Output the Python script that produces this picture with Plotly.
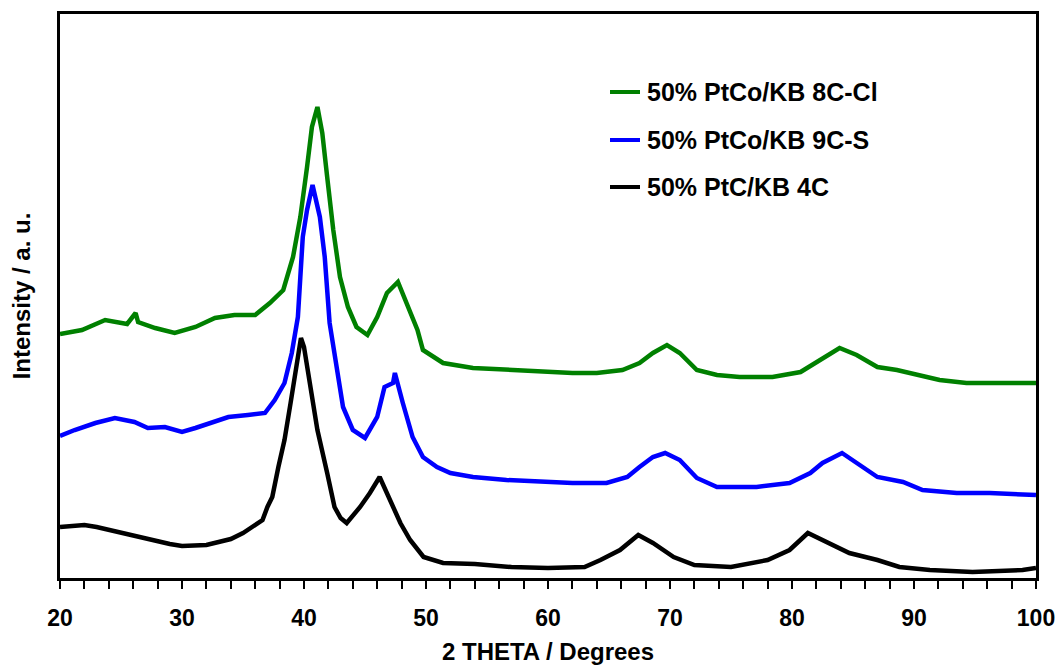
import plotly.graph_objects as go

# ---- data (2-theta in degrees, intensity in arbitrary units) ----
black_name = "50% PtC/KB 4C"
black_x = [20, 21, 22, 23, 24, 25, 26, 27, 28, 29, 30, 31, 32, 33, 34, 35,
           35.8, 36.6, 37.0, 37.4, 37.9, 38.4, 38.9, 39.4, 39.75, 40.0,
           40.5, 41.1, 41.9, 42.5, 43.0, 43.5, 44.6, 45.4, 46.2, 47.0,
           47.9, 48.7, 49.8, 51.4, 54, 57, 60, 63, 64.3, 65.9,
           67.4, 68.6, 70.3, 72, 75, 78, 79.8, 81.3, 83.1, 84.7,
           87.0, 88.8, 91.3, 94.8, 98.9, 100]
black_y = [51, 52, 53, 51, 48, 45, 42, 40, 37, 34, 32, 32, 33, 36, 39, 45,
           51, 58, 71, 81, 111, 138, 175, 213, 240, 231,
           191, 148, 105, 71, 60, 55, 71, 85, 101, 78,
           55, 38, 21, 15, 14, 11, 10, 11, 18, 28,
           43, 35, 21, 13, 11, 18, 28, 45, 35, 25,
           18, 11, 8, 6, 8, 10]

blue_name = "50% PtCo/KB 9C-S"
blue_x = [20, 21.2, 22.9, 24.5, 26.1, 27.2, 28.6, 30.0, 31.1, 32.5,
          33.8, 35.4, 36.8, 37.6, 38.4, 39.0, 39.5, 39.7, 39.9, 40.25,
          40.7, 41.3, 41.7, 42.1, 42.7, 43.2, 44.0, 45.0, 46.0, 46.6,
          47.3, 47.45, 48.1, 48.9, 49.75, 50.9, 52.0, 53.85, 56.6, 59.3,
          62.0, 64.8, 66.5, 67.5, 68.6, 69.6, 70.8, 72.2, 73.85, 77.1,
          79.8, 81.5, 82.5, 84.1, 85.3, 87.0, 89.1, 90.7, 93.5, 96.2,
          100]
blue_y = [142, 148, 155, 160, 156, 150, 151, 146, 150, 156,
          161, 163, 165, 178, 195, 225, 261, 301, 341, 368,
          393, 361, 321, 255, 208, 171, 148, 140, 161, 191,
          195, 205, 175, 141, 121, 111, 105, 101, 98, 96,
          95, 95, 101, 111, 121, 125, 118, 100, 91, 91,
          95, 105, 115, 125, 115, 101, 96, 88, 85, 85,
          83]

green_name = "50% PtCo/KB 8C-Cl"
green_x = [20, 21.8, 23.7, 25.5, 26.2, 26.4, 27.8, 29.4, 31.1, 32.7,
           34.3, 36.0, 37.2, 38.3, 39.1, 39.7, 40.25, 40.65, 41.1, 41.5,
           41.9, 42.4, 42.95, 43.6, 44.3, 45.2, 46.0, 46.8, 47.7, 48.4,
           49.3, 49.75, 51.4, 53.85, 56.6, 59.3, 62.0, 64.0, 66.1, 67.5,
           68.6, 69.75, 70.8, 72.2, 73.85, 75.7, 78.4, 80.7, 82.05, 83.1,
           83.9, 85.3, 87.0, 88.6, 90.2, 92.1, 94.3, 97.6, 100]
green_y = [244, 248, 258, 254, 265, 256, 250, 245, 251, 260,
           263, 263, 275, 288, 321, 361, 411, 451, 471, 445,
           401, 348, 301, 271, 251, 243, 261, 285, 296, 275,
           248, 228, 215, 210, 208, 206, 205, 205, 208, 215,
           225, 233, 225, 208, 203, 201, 201, 206, 216, 223,
           230, 223, 211, 208, 203, 198, 195, 195, 195]

x_ticks = [20, 30, 40, 50, 60, 70, 80, 90, 100]

FONT = "Liberation Sans, Arial, Helvetica, sans-serif"

series = [
    (black_name, black_x, black_y, "#000000"),
    (blue_name, blue_x, blue_y, "#0000ff"),
    (green_name, green_x, green_y, "#008000"),
]

fig = go.Figure()
for name, xs, ys, col in series:
    fig.add_trace(go.Scatter(x=xs, y=ys, name=name, mode="lines",
                             line=dict(color=col, width=4.5),
                             showlegend=False))

# Manual legend (order: green, blue, black)
W, H = 1061, 665
L, R, T, B = 60, 25, 14, 87
pw, ph = W - L - R, H - T - B

def px2paper(px, py):
    return (px - L) / pw, (H - B - py) / ph

legend_rows = [(green_name, "#008000", 92), (blue_name, "#0000ff", 140), (black_name, "#000000", 187)]
for name, col, py in legend_rows:
    x0, y0 = px2paper(610, py)
    x1, _ = px2paper(640, py)
    fig.add_shape(type="line", xref="paper", yref="paper", x0=x0, x1=x1, y0=y0, y1=y0,
                  line=dict(color=col, width=4))
    tx, _ = px2paper(645, py)
    fig.add_annotation(xref="paper", yref="paper", x=tx, y=y0, text=name,
                       showarrow=False, xanchor="left", yanchor="middle",
                       font=dict(family=FONT, size=25, color="black", weight="bold"))

fig.update_layout(
    width=W, height=H,
    margin=dict(l=L, r=R, t=T, b=B, autoexpand=False),
    paper_bgcolor="white", plot_bgcolor="white",
    font=dict(family=FONT, color="black"),
)
fig.update_xaxes(
    range=[20, 100], tickvals=x_ticks, ticks="outside", ticklen=8, tickwidth=2,
    tickcolor="black", ticklabelstandoff=9,
    minor=dict(dtick=2, ticks="outside", ticklen=8, tickwidth=2, tickcolor="black"),
    showline=True, linecolor="black", linewidth=3, mirror=True,
    showgrid=False, zeroline=False, automargin=False,
    tickfont=dict(family=FONT, size=23, weight="bold"),
    title=dict(text="2 THETA / Degrees", standoff=16,
               font=dict(family=FONT, size=24, weight="bold")),
)
fig.update_yaxes(
    range=[0, 564], showticklabels=False, ticks="",
    showline=True, linecolor="black", linewidth=3, mirror=True,
    showgrid=False, zeroline=False, automargin=False,
    title=dict(text="Intensity / a. u.", standoff=20,
               font=dict(family=FONT, size=24, weight="bold")),
)

fig.write_html("out.html")
